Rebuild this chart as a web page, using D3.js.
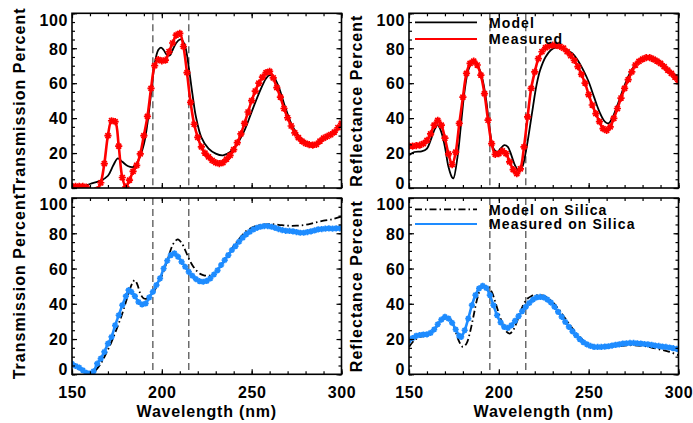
<!DOCTYPE html>
<html><head><meta charset="utf-8">
<script src="https://cdn.jsdelivr.net/npm/d3@7"></script>
<style>body{margin:0;background:#fff}svg{display:block}text{font-family:"Liberation Sans",Arial,sans-serif;font-weight:bold;fill:#000}</style>
</head><body><svg id="c" width="693" height="423"></svg>
<script>
// ---- data ----
const tickX = [150, 200, 250, 300];
const tickY = [0, 20, 40, 60, 80, 100];
const markLines = [195, 215];

// top-left: transmission
const tlMeasWl = [150,152,154,156,158,160,162,164,166,168,170,172,174,176,178,180,182,184,186,188,190,192,194,196,198,200,202,204,206,208,210,212,214,216,218,220,222,224,226,228,230,232,234,236,238,240,242,244,246,248,250,252,254,256,258,260,262,264,266,268,270,272,274,276,278,280,282,284,286,288,290,292,294,296,298,300];
const tlMeas = [1,1,1,1,0.5,-2,-3,-1,3,14,30,38.5,38,24,6,0.6,4.5,9.5,13,19.5,30,41,57,70,73.5,72.8,73.2,78,83,87.5,88.5,81,66,49,36.5,29,23.5,20,17.8,15.8,14.5,14,14.5,16.5,18.7,22,26,31,37,43.5,50,55.5,60,63.5,66,66.8,63,57.5,52,45.5,40.2,35.5,31.5,28.8,26.8,25.6,24.8,24.5,25,26.8,28.5,29.5,30.5,32,34.5,37];
const tlModWl = [150,154,160,166,170,173,175.5,178,181,184,187,190,192,194,196,198,199.5,201,203,204.5,206,208,210,211,213,215,217,219,222,226,230,234,238,242,246,250,254,258,260,262,265,268,272,276,280,284,288,292,296,300];
const tlMod = [-1,0,2.3,4.2,7,13,17,15,12.6,12,16,25,37,54,71,79,80.3,79,76,76,79,83,85,85,81,69,54,40.7,29,22.5,19.7,18.7,20.6,25.4,33,43.6,54,62.7,64.6,64,58,48.4,37,30,26.4,24.9,26.4,29,32,36];

// top-right: reflectance
const trMeasWl = tlMeasWl;
const trMeas = [24,24,24.2,24.5,25.4,27.3,31,36,38.7,36,28.5,19.5,13.4,20.5,37,52,65.6,71.3,72.6,70.4,64.6,54,38.8,25.4,19.3,19.7,21.2,19.7,15,10.5,8.2,11,23.5,40.7,57,66.5,74,78,80.3,81.4,81.8,81.6,81,80,78,75.7,73,69.5,65,60,53.5,47.5,42.6,38,34,33,35,39.8,45.5,51.5,57,62,66.5,70.4,72.5,73.8,74.6,74.6,73.8,72.6,71.3,69.5,67.5,65.6,63.5,61];
const trModWl = [150,153,157,160,162,164.5,166,168,170,172,174,174.7,177,179,181,183,185,187,189,191,193,195,197,199,201,203,205,207,209,211,213,215,217,219,221,223,226,229,232,235,238,241,244,247,250,253,256,259,261,263,266,269,272,275,278,281,284,287,290,293,296,300];
const trMod = [18.7,20.6,21,22.6,27.3,34,36,32,23.5,12,6,5.5,17.8,37,56,67.5,71.3,71.3,68.4,61.8,50,33,22.6,20.6,22.6,24.5,23.5,18.7,13,10,12,20.6,33,46.5,59,67.5,75,79,80.5,80.3,79,77,73,67.5,60.8,52,43.6,38,37,39.8,47.4,56,63.7,69.4,73.2,74.8,75,74.2,72.3,69.4,66.5,62.7];

// bottom-left: transmission on silica
const blMeasWl = [150,152,154,156,158,160,162,164,166,168,170,172,174,176,178,180,181.5,183,185,187,189,191,193,195,197,199,201,203,205,207,209,211,213,215,217,219,221,223,225,227,229,231,233,235,237,239,241,243,245,247,249,251,253,255,257,259,261,263,265,267,269,271,273,275,277,279,281,283,285,287,289,291,293,295,297,299,300];
const blMeas = [6,4.7,3.8,2.3,0.8,0.4,1.7,6,8.9,12.7,17.4,21.2,27.8,33.5,39.2,44.3,47.7,46.8,44.3,41,39.6,40.2,43.6,46.8,50.6,54.4,60,64.4,67.6,68.6,66.7,63.8,61,58.1,55.9,54,52.8,52.5,53,54.4,56.6,59,62,64.8,67.6,70.5,72.7,75.2,77.5,79.4,80.9,82.2,83.1,83.7,84.1,84.1,83.7,83.1,82.4,81.8,81.4,81.3,81.1,80.7,80.3,80.3,80.7,81.1,81.6,82.2,82.4,82.6,82.8,82.6,82.8,82.8,83];
const blModWl = [157,161,164,166,168,170,172,174,176,178,180,182,184,185,186.5,188,190,192,194,196,198,200,202,204,206,208,209,211,213,215,217,219,221,223,226,229,232,235,238,241,244,247,250,253,256,260,265,270,275,280,285,290,295,300];
const blMod = [-3,0,3.2,6,9.8,14,18.4,23.5,28.8,34.5,41,47.7,52.5,53.4,50.6,45.8,43,43,44.9,47.7,51.5,55.9,61.4,67.6,73.3,76.1,76.5,74.6,70.5,65.7,61.9,59.1,57.2,56.3,55.9,57.2,60,64.8,69.5,74.2,78,81.3,83.1,84.3,84.8,85.2,84.8,84.3,84.3,84.8,86,87.1,88,89.4];

// bottom-right: reflectance on silica
const brMeasWl = [150,152,154,156,158,160,162,164,166,168,170,172,174,176,178,179,181,183,185,187,189,191,193,195,197,199,201,203,205,207,209,211,213,215,217,219,221,223,225,227,229,231,233,235,237,239,241,243,245,247,249,251,253,255,257,259,261,263,265,267,269,271,273,275,277,279,281,283,285,287,289,291,293,295,297,299,300];
const brMeas = [19.3,20.6,21.8,22.3,22.5,22.7,23.5,25.4,28.4,31,32.6,31.6,29.2,25.4,21.8,21.2,25,31.6,39.2,44.9,48.7,50.2,49,44.9,39.2,33.5,29.4,26.9,26.3,27.8,30.3,33,35.8,38.3,40.5,42.4,43.6,43.9,43.6,42.4,40.7,38.3,35.4,32.6,29.7,26.9,24.4,22.2,19.9,18.2,17,16.1,15.5,15.5,15.5,15.7,15.9,16.3,16.7,17,17.4,17.6,17.8,17.8,17.6,17.4,17.2,17,16.7,16.3,16.1,15.7,15.5,15.2,14.8,14.4,14.2];
const brModWl = [150,153,156,159,162,165,168,170,172,174,176,178,180,182,184,186,188,190,192,194,196,198,200,202,204,206,208,210,212,214,216,218,220,222,224,226,228,230,233,236,239,242,245,248,251,254,257,260,265,270,275,280,285,290,295,300];
const brMod = [15.5,19.3,21.2,21.8,23.1,26.5,30.3,31.6,32,29.7,24,18.4,15.5,17.4,24,33.5,43,48.7,50.2,49.6,46.8,41.1,34.5,28.8,24.4,23.1,25,29.7,35.4,40.2,43,44.3,44.9,44.9,44.7,43.9,42.6,40.9,37.3,33,28.8,24.6,21.2,18.4,16.9,15.9,15.5,15.5,15.9,16.3,16.5,16.1,15.2,14,12.7,10.8];

const yTitles = ["Transmission Percent", "Reflectance Percent"];
const xTitle = "Wavelength (nm)";
const legendTop = ["Model", "Measured"];
const legendBottom = ["Model on Silica", "Measured on Silica"];

// ---- layout ----
const svg = d3.select("#c");
const cols = [[72, 341.5], [409, 678.5]];
const rows = [[13.3, 188], [198, 374.3]];
const RED = "#ff0000", BLUE = "#1e8cff";

const panels = [
  {c:0, r:0, mod:[tlModWl, tlMod], meas:[tlMeasWl, tlMeas], col:RED, dash:null},
  {c:1, r:0, mod:[trModWl, trMod], meas:[trMeasWl, trMeas], col:RED, dash:null, legend:legendTop},
  {c:0, r:1, mod:[blModWl, blMod], meas:[blMeasWl, blMeas], col:BLUE, dash:"7,3,1.5,3"},
  {c:1, r:1, mod:[brModWl, brMod], meas:[brMeasWl, brMeas], col:BLUE, dash:"7,3,1.5,3", legend:legendBottom},
];

const d3range = (a,b,s)=>d3.range(a,b+0.001,s);

panels.forEach((p,i)=>{
  const [x0,x1] = cols[p.c], [y0,y1] = rows[p.r];
  const x = d3.scaleLinear([150,300],[x0,x1]);
  const y = d3.scaleLinear([0,100],[y1,y0]);
  const g = svg.append("g");
  const cid = "clip"+i;
  svg.append("clipPath").attr("id",cid).append("rect").attr("x",x0).attr("y",y0).attr("width",x1-x0).attr("height",y1-y0);

  // dashed lines
  markLines.forEach(v=>{
    g.append("line").attr("x1",x(v)).attr("x2",x(v)).attr("y1",y0).attr("y2",y1)
      .attr("stroke","#555").attr("stroke-width",1.3).attr("stroke-dasharray","7,4");
  });

  const line = d3.line().x(d=>x(d[0])).y(d=>y(d[1])).curve(d3.curveCatmullRom.alpha(0.5));
  const dg = g.append("g").attr("clip-path",`url(#${cid})`);
  const mod = p.mod[0].map((w,k)=>[w,p.mod[1][k]]);
  const meas = p.meas[0].map((w,k)=>[w,p.meas[1][k]]);
  dg.append("path").datum(mod).attr("d",line).attr("fill","none").attr("stroke","#000")
    .attr("stroke-width",1.8).attr("stroke-dasharray",p.dash);
  dg.append("path").datum(meas).attr("d",line).attr("fill","none")
    .attr("stroke",p.col).attr("stroke-width",2.6);
  const ms = p.col===RED?3.6:3.1;
  dg.selectAll(".m").data(meas).join("path")
    .attr("transform",d=>`translate(${x(d[0])},${y(d[1])})`)
    .attr("d",`M${-ms},0H${ms}M0,${-ms}V${ms}M${-ms*0.7},${-ms*0.7}L${ms*0.7},${ms*0.7}M${-ms*0.7},${ms*0.7}L${ms*0.7},${-ms*0.7}`)
    .attr("stroke",p.col).attr("stroke-width",1.7).attr("fill","none");

  // axes (ticks inward on all sides)
  const xMinor = d3range(150,300,10), yMinor = d3range(0,100,5);
  const ax = (gen, tr)=>g.append("g").attr("transform",tr).call(gen).call(s=>s.select(".domain").remove());
  ax(d3.axisBottom(x).tickValues(xMinor).tickSize(-3).tickFormat(""), `translate(0,${y1})`);
  ax(d3.axisTop(x).tickValues(xMinor).tickSize(-3).tickFormat(""), `translate(0,${y0})`);
  ax(d3.axisBottom(x).tickValues(tickX).tickSize(-5).tickFormat(""), `translate(0,${y0})`).selectAll("line").attr("y2",5);
  ax(d3.axisLeft(y).tickValues(yMinor).tickSize(-3).tickFormat(""), `translate(${x0},0)`);
  ax(d3.axisRight(y).tickValues(yMinor).tickSize(-3).tickFormat(""), `translate(${x1},0)`);
  ax(d3.axisLeft(y).tickValues(tickY).tickSize(-5).tickFormat(""), `translate(${x1},0)`).selectAll("line").attr("x2",-5);
  const bx = ax(d3.axisBottom(x).tickValues(tickX).tickSize(-5).tickPadding(12).tickFormat(d3.format("d")), `translate(0,${y1})`);
  bx.selectAll("text").attr("font-size",16).attr("letter-spacing","0.6px").attr("font-family",null).attr("fill","#000");
  if (p.r===0) bx.selectAll("text").remove();
  const ly = ax(d3.axisLeft(y).tickValues(tickY).tickSize(-5).tickPadding(4).tickFormat(d3.format("d")), `translate(${x0},0)`);
  ly.selectAll("text").attr("font-size",16).attr("letter-spacing","0.6px").attr("font-family",null).attr("fill","#000")
    .attr("dy",null).attr("y",v=>{ const t=y(v); const base=Math.min(Math.max(t+5.8, y0+11.8), y1+0.5); return base-t; });
  g.selectAll(".tick line").attr("stroke","#000").attr("stroke-width",1.2);

  // frame
  g.append("rect").attr("x",x0).attr("y",y0).attr("width",x1-x0).attr("height",y1-y0)
    .attr("fill","none").attr("stroke","#000").attr("stroke-width",1.6);

  // y title
  const tx = p.c===0?25:362;
  g.append("text").attr("transform",`translate(${tx},${(y0+y1)/2}) rotate(-90)`)
    .attr("text-anchor","middle").attr("font-size",16).attr("letter-spacing","1px").text(yTitles[p.c]);
  if (p.r===1) g.append("text").attr("x",(x0+x1)/2).attr("y",417).attr("text-anchor","middle")
    .attr("font-size",16).attr("letter-spacing","0.8px").text(xTitle);

  // legend
  if (p.legend){
    const ly0 = p.r===0?22.3:209.3, step = p.r===0?16.7:14.7;
    p.legend.forEach((lab,k)=>{
      const yy = ly0 + k*step;
      g.append("line").attr("x1",415).attr("x2",477).attr("y1",yy).attr("y2",yy)
        .attr("stroke",k===0?"#000":p.col).attr("stroke-width",k===0?1.8:2)
        .attr("stroke-dasharray",k===0?p.dash:null);
      g.append("text").attr("x",489).attr("y",yy+5.3).attr("font-size",14).attr("letter-spacing","1.1px").text(lab);
    });
  }
});
</script></body></html>
